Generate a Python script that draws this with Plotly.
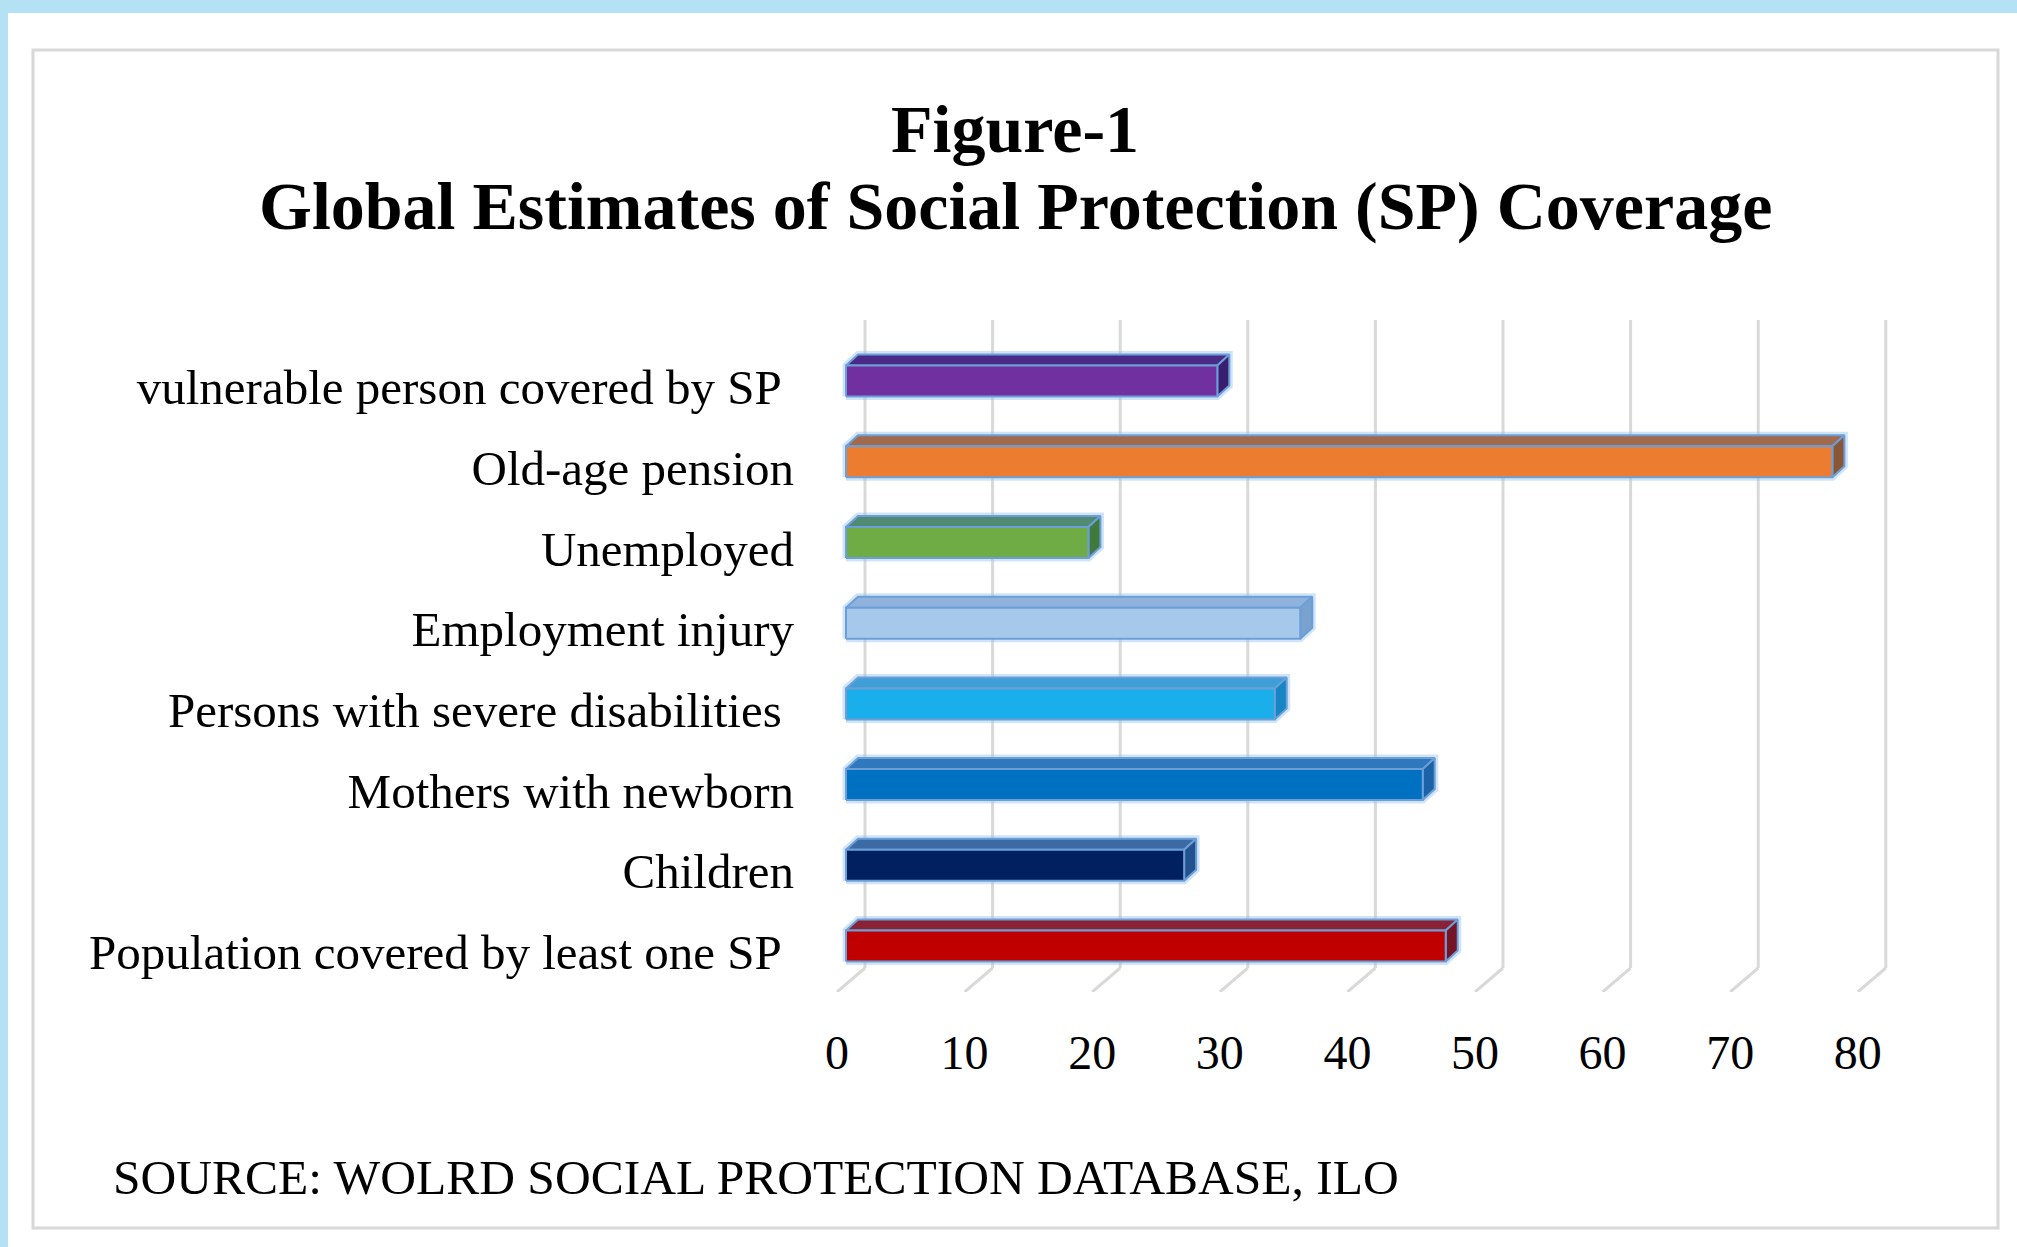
import plotly.graph_objects as go

# ---- data -------------------------------------------------------------
categories = [
    "Population covered by least one SP ",
    "Children",
    "Mothers with newborn",
    "Persons with severe disabilities ",
    "Employment injury",
    "Unemployed",
    "Old-age pension",
    "vulnerable person covered by SP ",
]
coverage = [47.0, 26.5, 45.2, 33.6, 35.6, 19.0, 77.3, 29.1]
x_ticks = [0, 10, 20, 30, 40, 50, 60, 70, 80]

title_line1 = "Figure-1"
title_line2 = "Global Estimates of Social Protection (SP) Coverage"
source_note = "SOURCE: WOLRD SOCIAL PROTECTION DATABASE, ILO"

# ---- styles -----------------------------------------------------------
front_colors = ["#c00000", "#002060", "#0070c0", "#1aaeea", "#a6c8ea", "#6fac46", "#ec7c30", "#7030a0"]
top_colors = ["#8a2236", "#3c6aa4", "#2f78bd", "#3d9fd6", "#8fb3dc", "#4f8a72", "#a26a4c", "#4a2a86"]
side_colors = ["#741424", "#24528e", "#1c62a6", "#1585c4", "#7aa2cf", "#3f7a3a", "#8a5636", "#3a1d6e"]
edge_color = "#6c9ed8"
glow_color = "rgba(150,195,240,0.45)"
grid_color = "#d9d9d9"
serif = "Liberation Serif, Times New Roman, serif"

W, H = 2017, 1247

# pixel geometry of the oblique (pseudo-3D) chart
PX_X = 12.76          # px per percentage point
FLOOR_X0 = 837        # px of value 0 on the front floor edge
PX_Y = 80.7           # px between category rows
ROW0_Y = 946          # px of the lowest row's centre
PLOT_L, PLOT_R = 805, 1960
PLOT_T, PLOT_B = 320, 992
BACK_FLOOR_Y = 968

x_range = [(PLOT_L - FLOOR_X0) / PX_X, (PLOT_R - FLOOR_X0) / PX_X]
y_range = [(ROW0_Y - PLOT_B) / PX_Y, (ROW0_Y - PLOT_T) / PX_Y]

bar_x0 = 9 / PX_X            # bar front face sits a little behind the floor edge
half_h = 15.5 / PX_Y         # half height of the bar front face
depth_dx = 12 / PX_X         # bar depth offset
depth_dy = 11 / PX_Y
wall_dx = 28 / PX_X          # back wall offset
wall_floor_y = (ROW0_Y - BACK_FLOOR_Y) / PX_Y

fig = go.Figure()

# gridlines on the back wall plus their slanted floor segments
shapes = []
for v in x_ticks:
    shapes.append(dict(type="line", xref="x", yref="y", layer="below",
                       x0=v + wall_dx, x1=v + wall_dx, y0=wall_floor_y, y1=y_range[1],
                       line=dict(color=grid_color, width=3)))
    shapes.append(dict(type="line", xref="x", yref="y", layer="below",
                       x0=v + wall_dx, x1=v, y0=wall_floor_y, y1=y_range[0],
                       line=dict(color=grid_color, width=3)))

# page frame: light blue band and grey panel border
shapes += [
    dict(type="rect", xref="paper", yref="paper", layer="below",
         x0=0, x1=1, y0=1 - 13 / H, y1=1, line=dict(width=0), fillcolor="#b4e1f4"),
    dict(type="rect", xref="paper", yref="paper", layer="below",
         x0=0, x1=8 / W, y0=0, y1=1, line=dict(width=0), fillcolor="#b4e1f4"),
    dict(type="rect", xref="paper", yref="paper", layer="below",
         x0=33 / W, x1=1998 / W, y0=1 - 1228 / H, y1=1 - 50 / H,
         line=dict(color="#d8d8d8", width=3), fillcolor="rgba(0,0,0,0)"),
]


def poly(xs, ys, fill, line_color, line_width, show_fill=True):
    return go.Scatter(
        x=xs + [xs[0]], y=ys + [ys[0]], mode="lines",
        fill="toself" if show_fill else None,
        fillcolor=fill if show_fill else None,
        line=dict(color=line_color, width=line_width),
        hoverinfo="skip", showlegend=False,
    )


for i, v in enumerate(coverage):
    x0, x1 = bar_x0, bar_x0 + v
    yb, yt = i - half_h, i + half_h
    # soft halo around the whole box
    fig.add_trace(poly(
        [x0, x1, x1 + depth_dx, x1 + depth_dx, x0 + depth_dx, x0],
        [yb, yb, yb + depth_dy, yt + depth_dy, yt + depth_dy, yt],
        None, glow_color, 7, show_fill=False))
    # top face
    fig.add_trace(poly(
        [x0, x1, x1 + depth_dx, x0 + depth_dx],
        [yt, yt, yt + depth_dy, yt + depth_dy],
        top_colors[i], edge_color, 2))
    # right end face
    fig.add_trace(poly(
        [x1, x1 + depth_dx, x1 + depth_dx, x1],
        [yb, yb + depth_dy, yt + depth_dy, yt],
        side_colors[i], edge_color, 2))
    # front face
    fig.add_trace(poly(
        [x0, x1, x1, x0],
        [yb, yb, yt, yt],
        front_colors[i], edge_color, 2))

tick_text = [c[:-1] + "\u00a0" if c.endswith(" ") else c for c in categories]

fig.update_layout(
    width=W, height=H, autosize=False,
    margin=dict(l=0, r=0, t=0, b=0),
    paper_bgcolor="white", plot_bgcolor="rgba(0,0,0,0)",
    shapes=shapes,
    font=dict(family=serif, color="black"),
    xaxis=dict(
        domain=[PLOT_L / W, PLOT_R / W], range=x_range,
        tickmode="array", tickvals=x_ticks, ticktext=[str(t) for t in x_ticks],
        showgrid=False, zeroline=False, showline=False, ticks="", ticklen=0,
        tickfont=dict(family=serif, size=48, color="black"),
        ticklabelstandoff=28, fixedrange=True,
    ),
    yaxis=dict(
        domain=[1 - PLOT_B / H, 1 - PLOT_T / H], range=y_range,
        tickmode="array", tickvals=list(range(len(categories))), ticktext=tick_text,
        showgrid=False, zeroline=False, showline=False, ticks="", ticklen=0,
        tickfont=dict(family=serif, size=49, color="black"),
        ticklabelstandoff=10, ticklabelshift=6, fixedrange=True,
    ),
    annotations=[
        dict(text="<b>" + title_line1 + "</b>", xref="paper", yref="paper",
             x=1015 / W, y=1 - 129 / H, xanchor="center", yanchor="middle",
             showarrow=False, font=dict(family=serif, size=68, color="black")),
        dict(text="<b>" + title_line2 + "</b>", xref="paper", yref="paper",
             x=1015 / W, y=1 - 206 / H, xanchor="center", yanchor="middle",
             showarrow=False, font=dict(family=serif, size=68, color="black")),
        dict(text=source_note, xref="paper", yref="paper",
             x=111 / W, y=1 - 1177 / H, xanchor="left", yanchor="middle",
             showarrow=False, font=dict(family=serif, size=49.5, color="black")),
    ],
)

fig.write_html("out.html")
